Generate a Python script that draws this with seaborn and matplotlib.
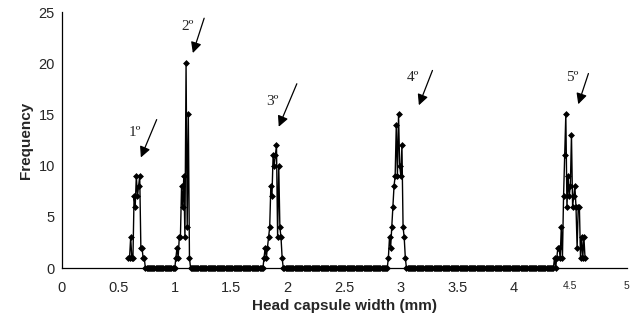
import numpy as np
import pandas as pd
import matplotlib.pyplot as plt
import seaborn as sns

# head capsule width classes, 0.01 mm apart, counts
width = np.round(np.arange(0.59, 4.635, 0.01), 2)

peak1_start, peak1 = 0.59, [1, 1, 3, 1, 1, 7, 6, 9, 7, 8, 9, 2, 2, 1, 1]
peak2_start, peak2 = 1.01, [1, 2, 1, 3, 3, 8, 6, 9, 3, 20, 4, 15, 1]
peak3_start, peak3 = 1.79, [1, 2, 1, 2, 3, 4, 8, 7, 11, 10, 11, 12, 3, 10, 4, 3, 1]
peak4_start, peak4 = 2.89, [1, 3, 2, 4, 6, 8, 9, 14, 9, 15, 10, 9, 12, 4, 3, 1]
peak5_start, peak5 = 4.36, [1, 0, 1, 2, 2, 1, 4, 1, 7, 11, 15, 6, 9, 7, 8, 13,
                            6, 7, 8, 6, 2, 6, 6, 1, 3, 1, 3, 1]

# everything outside the peaks is 0
freq = np.zeros(len(width), dtype=int)
for start, vals in [(peak1_start, peak1), (peak2_start, peak2), (peak3_start, peak3),
                    (peak4_start, peak4), (peak5_start, peak5)]:
    i = int(round((start - width[0]) / 0.01))
    freq[i:i + len(vals)] = vals

df = pd.DataFrame({'width': width, 'freq': freq})

instar_labels = ['1º', '2º', '3º', '4º', '5º']
label_pos = [(0.65, 13.2), (1.11, 23.6), (1.86, 16.3), (3.11, 18.6), (4.52, 18.6)]
arrow_tail = [(0.84, 14.5), (1.26, 24.4), (2.08, 18.0), (3.28, 19.3), (4.66, 19.0)]
arrow_head = [(0.70, 10.8), (1.16, 21.0), (1.92, 13.8), (3.16, 15.9), (4.57, 16.0)]

sns.set_style('white')
plt.rcParams['font.family'] = ['Liberation Sans', 'DejaVu Sans']

fig = plt.figure(figsize=(6.3, 3.18), dpi=100)
ax = fig.add_axes([0.098, 0.157, 0.897, 0.805])

sns.lineplot(data=df, x='width', y='freq', ax=ax, color='black', linewidth=1,
             marker='D', markersize=3.0, markeredgecolor='black', markeredgewidth=0.5,
             clip_on=False, zorder=3)

for lab, tp, tail, head in zip(instar_labels, label_pos, arrow_tail, arrow_head):
    ax.text(tp[0], tp[1], lab, ha='center', va='center', fontsize=11,
            family=['Liberation Serif', 'DejaVu Serif'])
    ax.annotate('', xy=head, xytext=tail,
                arrowprops=dict(arrowstyle='-|>', color='black', lw=0.9,
                                mutation_scale=16, shrinkA=0, shrinkB=0))

ax.set_xlim(0, 5)
ax.set_ylim(0, 25)
ax.set_xticks([0, 0.5, 1, 1.5, 2, 2.5, 3, 3.5, 4, 4.5, 5])
ax.set_xticklabels(['0', '0.5', '1', '1.5', '2', '2.5', '3', '3.5', '4', '4.5', '5'])
ax.set_yticks([0, 5, 10, 15, 20, 25])
ax.tick_params(axis='both', labelsize=10.5, direction='out', length=3, width=0.8,
               color='black', pad=2)
ax.tick_params(axis='x', pad=6)
for t in ax.get_xticklabels()[-2:]:
    t.set_fontsize(7.5)

for s in ['top', 'right']:
    ax.spines[s].set_visible(False)
for s in ['left', 'bottom']:
    ax.spines[s].set_color('black')
    ax.spines[s].set_linewidth(0.9)

ax.set_xlabel('Head capsule width (mm)', fontsize=11, fontweight='bold', labelpad=3)
ax.set_ylabel('Frequency', fontsize=11, fontweight='bold', labelpad=4)

fig.savefig('out.png', dpi=100)
